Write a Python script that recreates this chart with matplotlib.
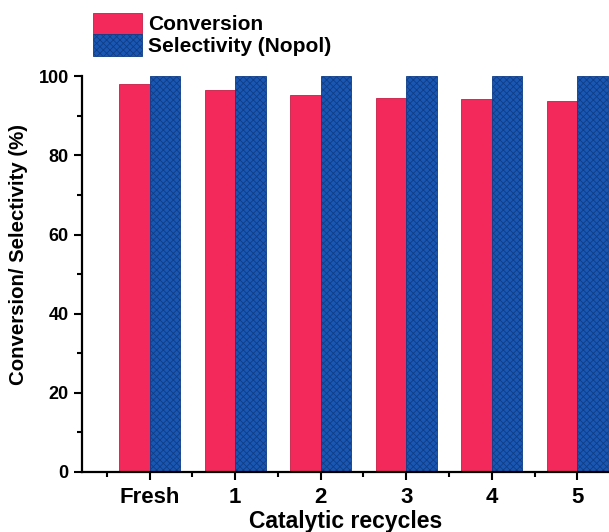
import numpy as np
import matplotlib
matplotlib.use('Agg')
import matplotlib.pyplot as plt
from matplotlib.ticker import MultipleLocator

plt.rcParams['font.family'] = ['Liberation Sans', 'DejaVu Sans']
plt.rcParams['font.weight'] = 'bold'
plt.rcParams['hatch.linewidth'] = 0.6

categories = ['Fresh', '1', '2', '3', '4', '5']
conversion = [98.0, 96.5, 95.3, 94.5, 94.2, 93.7]
selectivity = [100, 100, 100, 100, 100, 100]

x = np.arange(len(categories))
w = 0.356

fig = plt.figure(figsize=(6.09, 5.32), dpi=100)
ax = fig.add_axes([0.1346, 0.1128, 0.8654, 0.744])

b1 = ax.bar(x - w / 2, conversion, w, color='#f2295a', edgecolor='#c81d45', linewidth=0.6,
            label='Conversion')
b2 = ax.bar(x + w / 2, selectivity, w, color='#1a57b2', edgecolor='#0f3d88', linewidth=0.6,
            hatch='xxxxx', label='Selectivity (Nopol)')

ax.set_xlim(-0.79, 5.37)
ax.set_ylim(0, 100)
ax.set_xticks(x)
ax.set_xticklabels(categories)
ax.xaxis.set_minor_locator(MultipleLocator(0.5))
ax.yaxis.set_major_locator(MultipleLocator(20))
ax.yaxis.set_minor_locator(MultipleLocator(10))
ax.tick_params(which='major', length=6, width=1.5)
ax.tick_params(which='minor', length=3.5, width=1.5)
ax.tick_params(axis='x', labelsize=16, pad=5)
ax.tick_params(axis='y', labelsize=13)
for s in ['top', 'right']:
    ax.spines[s].set_visible(False)
for s in ['left', 'bottom']:
    ax.spines[s].set_linewidth(1.6)
for lab in ax.get_xticklabels() + ax.get_yticklabels():
    lab.set_fontweight('bold')

ax.set_xlabel('Catalytic recycles', fontsize=16.5, fontweight='bold', labelpad=1.5)
ax.set_ylabel('Conversion/ Selectivity (%)', fontsize=14.7, fontweight='bold')
ax.yaxis.set_label_coords(-0.1025, 0.55)

fig.legend(handles=[b1, b2], loc='upper left', bbox_to_anchor=(0.153, 0.976),
           frameon=False, fontsize=15, handlelength=2.35, handleheight=1.2,
           labelspacing=0.0, handletextpad=0.3, borderaxespad=0, borderpad=0)

fig.savefig('out.png', dpi=100)
